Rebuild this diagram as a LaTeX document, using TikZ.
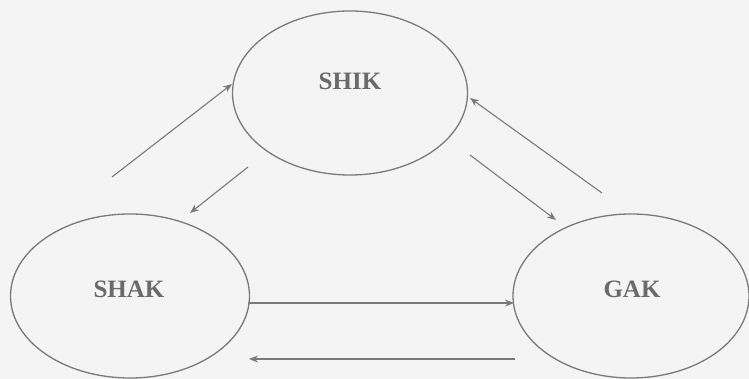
\documentclass[tikz,border=0pt]{standalone}
\usepackage{fontspec}
\setmainfont{Liberation Serif}
\usetikzlibrary{arrows.meta,shapes.geometric}
\definecolor{bg}{HTML}{F4F4F4}
\definecolor{ln}{HTML}{7A7A7A}
\definecolor{tx}{HTML}{6A6A6A}
\begin{document}
\begin{tikzpicture}[x=1pt,y=-1pt,
  stateell/.style={draw=ln, line width=1.3pt, ellipse, minimum width=#1, minimum height=164pt, inner sep=0pt},
  lbl/.style={text=tx, font=\fontsize{25}{28}\selectfont\bfseries},
  conn/.style={draw=ln, line width=1.1pt, -{Stealth[length=9pt,width=7pt]}}]
\fill[bg] (0,0) rectangle (749,379);
\useasboundingbox (0,0) rectangle (749,379);
\node[stateell=235pt] (shik) at (350,93) {};
\node[stateell=239pt] (shak) at (130,296) {};
\node[stateell=236pt] (gak) at (631,296) {};
\node[lbl] (tshik) at (350,81) {SHIK};
\node[lbl] (tshak) at (129,289) {SHAK};
\node[lbl] (tgak) at (632,289) {GAK};
\coordinate (a1s) at (112,177);
\coordinate (a1e) at (232,84);
\coordinate (a2s) at (248,167);
\coordinate (a2e) at (190,213);
\coordinate (a3s) at (470,155);
\coordinate (a3e) at (556,220);
\coordinate (a4s) at (602,193);
\coordinate (a4e) at (470,98);
\coordinate (a5s) at (248,303);
\coordinate (a5e) at (514,303);
\coordinate (a6s) at (515,359);
\coordinate (a6e) at (249,359);
\draw[conn] (a1s) -- (a1e);
\draw[conn] (a2s) -- (a2e);
\draw[conn] (a3s) -- (a3e);
\draw[conn] (a4s) -- (a4e);
\draw[conn] (a5s) -- (a5e);
\draw[conn] (a6s) -- (a6e);
\end{tikzpicture}
\end{document}
